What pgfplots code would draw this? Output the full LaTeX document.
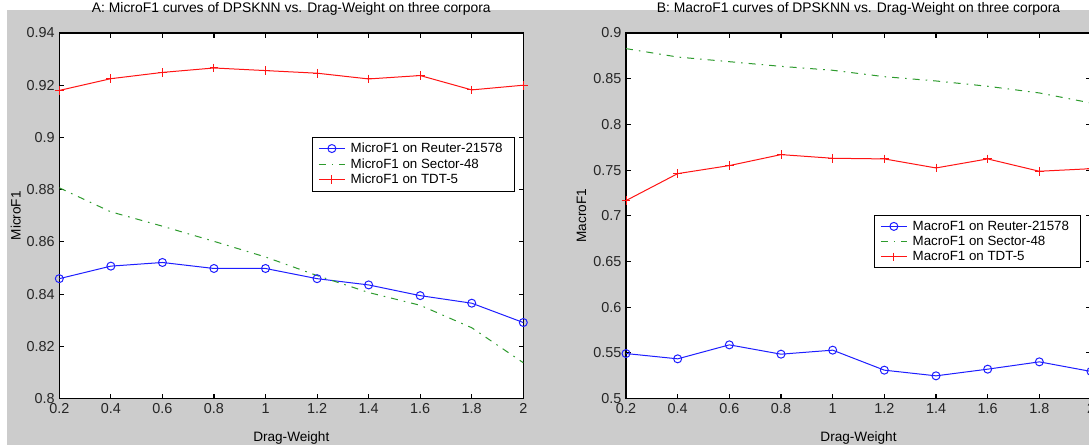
\documentclass[border=0pt]{standalone}
\usepackage{pgfplots}
\pgfplotsset{compat=1.18}
\usepackage{pgfplotstable}
\usepackage{fontspec}
\setmainfont{Liberation Sans}
\definecolor{bgray}{RGB}{204,204,204}
\definecolor{mblue}{RGB}{30,30,255}
\definecolor{mred}{RGB}{255,20,20}
\definecolor{mgreen}{RGB}{45,155,45}

\pgfplotstableread{
x     reuter  sector  tdt
0.2   0.8459  0.8807  0.9180
0.4   0.8507  0.8715  0.9225
0.6   0.8521  0.8660  0.9249
0.8   0.8498  0.8602  0.9266
1.0   0.8498  0.8542  0.9256
1.2   0.8459  0.8471  0.9246
1.4   0.8435  0.8406  0.9224
1.6   0.8394  0.8357  0.9237
1.8   0.8365  0.8271  0.9182
2.0   0.8291  0.8137  0.9200
}\microtab

\pgfplotstableread{
x     reuter  sector  tdt
0.2   0.5492  0.8829  0.7166
0.4   0.5434  0.8737  0.7461
0.6   0.5587  0.8686  0.7549
0.8   0.5485  0.8635  0.7669
1.0   0.5529  0.8592  0.7629
1.2   0.5310  0.8522  0.7622
1.4   0.5248  0.8475  0.7523
1.6   0.5321  0.8417  0.7622
1.8   0.5401  0.8344  0.7487
2.0   0.5296  0.8234  0.7515
}\macrotab

\pgfplotsset{mystyle/.style={
  scale only axis, height=274.125pt,
  xmin=0.2, xmax=2,
  xtick={0.2,0.4,0.6,0.8,1,1.2,1.4,1.6,1.8,2},
  tick align=inside, major tick length=3.6pt,
  axis line style={black, line width=0.8pt},
  tick style={black, line width=0.8pt},
  axis background/.style={fill=white},
  ticklabel style={font=\fontsize{10.8}{12}\selectfont, text=black!85},
  /pgf/number format/assume math mode=true,
  yticklabel style={/pgf/number format/fixed, /pgf/number format/precision=2},
  title style={font=\fontsize{10.4}{12}\selectfont, at={(axis description cs:0.5,1.043)}, anchor=center},
  label style={font=\fontsize{10.2}{12}\selectfont},
  xlabel style={at={(axis description cs:0.5,-0.108)}, anchor=center},
  legend style={font=\fontsize{10}{12}\selectfont, draw=black, line width=0.6pt, fill=white, anchor=north west, inner xsep=4.5pt, inner ysep=2pt, row sep=-1pt, nodes={inner xsep=4pt}},
  legend cell align=left,
  legend image code/.code={\draw[mark repeat=2,mark phase=2,#1] plot coordinates {(0pt,0pt) (9.75pt,0pt) (19.5pt,0pt)};},
}}

\begin{document}
\begin{tikzpicture}
\fill[white] (0,0) rectangle (816.75pt,333.75pt);
\fill[bgray] (5.25pt,0) rectangle (816.75pt,326.25pt);

\begin{axis}[mystyle, at={(44.475pt,34.875pt)}, anchor=south west, width=348pt,
  ymin=0.8, ymax=0.94, ytick={0.8,0.82,0.84,0.86,0.88,0.9,0.92,0.94},
  title={A: MicroF1 curves of DPSKNN vs. Drag-Weight on three corpora},
  xlabel={Drag-Weight}, ylabel={MicroF1},
  ylabel style={at={(axis description cs:-0.094,0.5)}, anchor=center},
  legend style={at={(axis description cs:0.5446,0.7155)}}]
\addplot[mblue, line width=0.75pt, mark=o, mark size=3pt] table[x=x,y=reuter] {\microtab};
\addlegendentry{MicroF1 on Reuter-21578}
\addplot[mgreen, line width=0.75pt, dash pattern=on 5.25pt off 4.5pt on 1.2pt off 4.5pt] table[x=x,y=sector] {\microtab};
\addlegendentry{MicroF1 on Sector-48}
\addplot[mred, line width=0.75pt, mark=+, mark size=3.3pt] table[x=x,y=tdt] {\microtab};
\addlegendentry{MicroF1 on TDT-5}
\end{axis}

\begin{axis}[mystyle, at={(469.5pt,34.875pt)}, anchor=south west, width=348.75pt,
  ymin=0.5, ymax=0.9, ytick={0.5,0.55,0.6,0.65,0.7,0.75,0.8,0.85,0.9},
  title={B: MacroF1 curves of DPSKNN vs. Drag-Weight on three corpora},
  xlabel={Drag-Weight}, ylabel={MacroF1},
  ylabel style={at={(axis description cs:-0.0957,0.5)}, anchor=center},
  legend style={at={(axis description cs:0.5333,0.502)}}]
\addplot[mblue, line width=0.75pt, mark=o, mark size=3pt] table[x=x,y=reuter] {\macrotab};
\addlegendentry{MacroF1 on Reuter-21578}
\addplot[mgreen, line width=0.75pt, dash pattern=on 5.25pt off 4.5pt on 1.2pt off 4.5pt] table[x=x,y=sector] {\macrotab};
\addlegendentry{MacroF1 on Sector-48}
\addplot[mred, line width=0.75pt, mark=+, mark size=3.3pt] table[x=x,y=tdt] {\macrotab};
\addlegendentry{MacroF1 on TDT-5}
\end{axis}

\pgfresetboundingbox
\useasboundingbox (0,0) rectangle (816.75pt,333.75pt);
\end{tikzpicture}
\end{document}
